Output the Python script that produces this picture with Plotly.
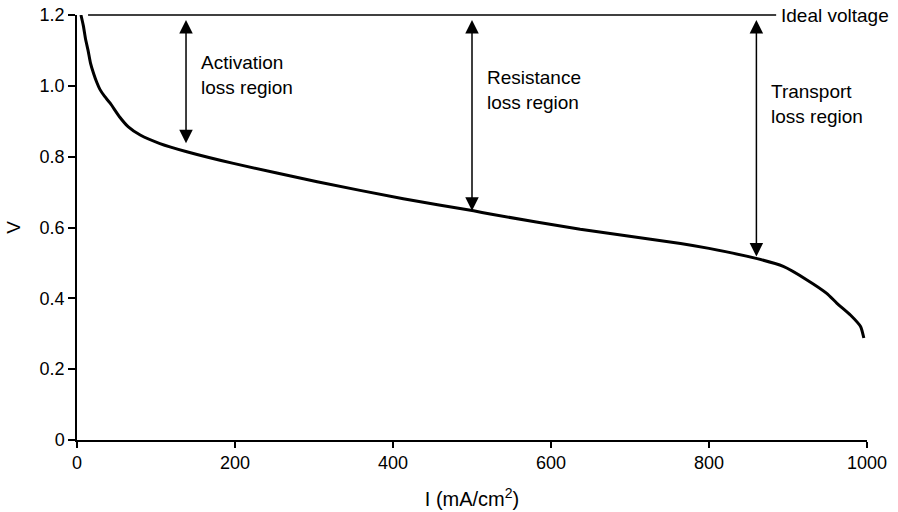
import plotly.graph_objects as go

# Polarization curve
current = [5, 8, 11, 14, 17, 21, 25, 29, 35, 42, 54, 65, 80, 105, 139, 198, 304, 413, 502, 523, 637, 764, 800, 861, 894, 924, 949, 962, 979, 992, 996]
voltage = [1.20, 1.17, 1.13, 1.10, 1.065, 1.035, 1.01, 0.99, 0.97, 0.951, 0.912, 0.884, 0.861, 0.837, 0.814, 0.781, 0.729, 0.681, 0.647, 0.638, 0.595, 0.555, 0.541, 0.512, 0.490, 0.452, 0.414, 0.386, 0.353, 0.320, 0.288]

ideal_voltage = 1.2
ideal_x = [14, 885]

# Loss-region arrows: x position, bottom, top
arrow_x = [138, 500, 860]
arrow_bottom = [0.838, 0.647, 0.518]
arrow_top = [1.19, 1.19, 1.19]

region_labels = ["Activation<br>loss region", "Resistance<br>loss region", "Transport<br>loss region"]
label_x = [154, 517, 876]
label_y = [1.03, 0.988, 0.948]

y_ticks = [0, 0.2, 0.4, 0.6, 0.8, 1.0, 1.2]
y_ticktext = ["0", "0.2", "0.4", "0.6", "0.8", "1.0", "1.2"]
x_ticks = [0, 200, 400, 600, 800, 1000]

FONT = "Liberation Sans, Arial, Helvetica, sans-serif"

fig = go.Figure()
fig.add_trace(go.Scatter(
    x=current, y=voltage, mode="lines",
    line=dict(color="black", width=3, shape="spline", smoothing=0.5),
    hoverinfo="skip", showlegend=False, cliponaxis=False,
))

fig.add_shape(type="line", xref="x", yref="paper",
              x0=ideal_x[0], x1=ideal_x[1], y0=1, y1=1,
              line=dict(color="black", width=1.5))

annotations = []
for xa, yb, yt in zip(arrow_x, arrow_bottom, arrow_top):
    annotations.append(dict(
        x=xa, y=yb, ax=xa, ay=yt, xref="x", yref="y", axref="x", ayref="y",
        text="", showarrow=True, arrowhead=2, arrowside="end+start",
        arrowsize=1.8, arrowwidth=1.5, arrowcolor="black", standoff=0, startstandoff=0,
    ))
for t, xl, yl in zip(region_labels, label_x, label_y):
    annotations.append(dict(
        x=xl, y=yl, xref="x", yref="y", text=t, showarrow=False,
        xanchor="left", yanchor="middle", align="left",
        font=dict(family=FONT, size=19, color="black"),
    ))
annotations.append(dict(
    x=ideal_x[1] + 4, y=ideal_voltage, xref="x", yref="y", text="Ideal voltage",
    showarrow=False, xanchor="left", yanchor="middle", align="left",
    font=dict(family=FONT, size=19, color="black"),
))

fig.update_layout(
    width=898, height=512,
    margin=dict(l=77, r=31, t=15, b=72, autoexpand=False),
    paper_bgcolor="white", plot_bgcolor="white",
    font=dict(family=FONT, size=18, color="black"),
    annotations=annotations,
    xaxis=dict(
        range=[0, 1000], tickvals=x_ticks, ticks="outside", ticklen=6, tickwidth=1.5,
        tickcolor="black", showline=True, linecolor="black", linewidth=1.5,
        showgrid=False, zeroline=False, automargin=False,
        title=dict(text="I (mA/cm<sup>2</sup>)", font=dict(family=FONT, size=20), standoff=20),
        tickfont=dict(family=FONT, size=18),
    ),
    yaxis=dict(
        range=[0, 1.2], tickvals=y_ticks, ticktext=y_ticktext, ticks="outside", ticklen=7,
        tickwidth=1.5, tickcolor="black", showline=True, linecolor="black", linewidth=1.5,
        showgrid=False, zeroline=False, automargin=False,
        title=dict(text="V", font=dict(family=FONT, size=19), standoff=14),
        tickfont=dict(family=FONT, size=18),
    ),
)

fig.write_html("out.html")
